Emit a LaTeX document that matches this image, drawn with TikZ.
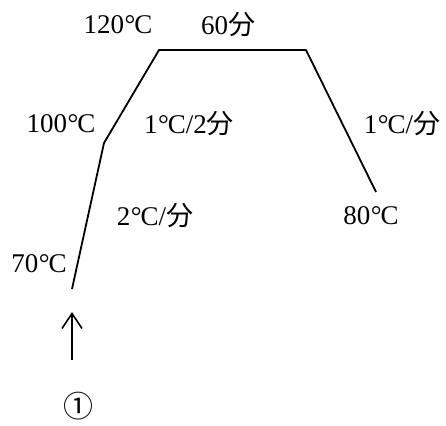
\documentclass[tikz,border=0pt]{standalone}
\usepackage{fontspec}
\setmainfont{Liberation Serif}
\newfontfamily\cjk{Noto Sans CJK JP}
\usetikzlibrary{arrows.meta}
\newcommand{\dc}{\kern0.5pt°\kern-1pt C}
\newcommand{\fen}{{\cjk 分}}
\tikzset{
  lbl/.style={inner sep=0pt, font=\fontsize{27}{30}\selectfont},
  curve/.style={line width=1.8pt, line join=round},
  arr/.style={line width=1.8pt, -{Straight Barb[length=15pt,width=20pt,line width=1.6pt]}}
}
\begin{document}
\begin{tikzpicture}[x=1pt,y=-1pt]
\useasboundingbox (0,0) rectangle (446,425);
\coordinate (p70) at (72,289);
\coordinate (p100) at (104,143);
\coordinate (p120a) at (159,50);
\coordinate (p120b) at (306,50);
\coordinate (p80) at (376,192);
\coordinate (tail) at (72,360);
\coordinate (head) at (72,312);
\draw[curve] (p70) -- (p100) -- (p120a) -- (p120b) -- (p80);
\draw[arr] (tail) -- (head);
\node[lbl] (t120) at (118,25) {120\dc};
\node[lbl] (t60) at (228,25) {60\fen};
\node[lbl] (t100) at (61,124) {100\dc};
\node[lbl] (r1) at (189,124) {1\dc/2\fen};
\node[lbl] (r3) at (402,124) {1\dc/\fen};
\node[lbl] (r2) at (155,216) {2\dc/\fen};
\node[lbl] (t80) at (371,216) {80\dc};
\node[lbl] (t70) at (39,264) {70\dc};
\node[lbl, font=\fontsize{30}{34}\selectfont\cjk] (one) at (78,406) {①};
\end{tikzpicture}
\end{document}
